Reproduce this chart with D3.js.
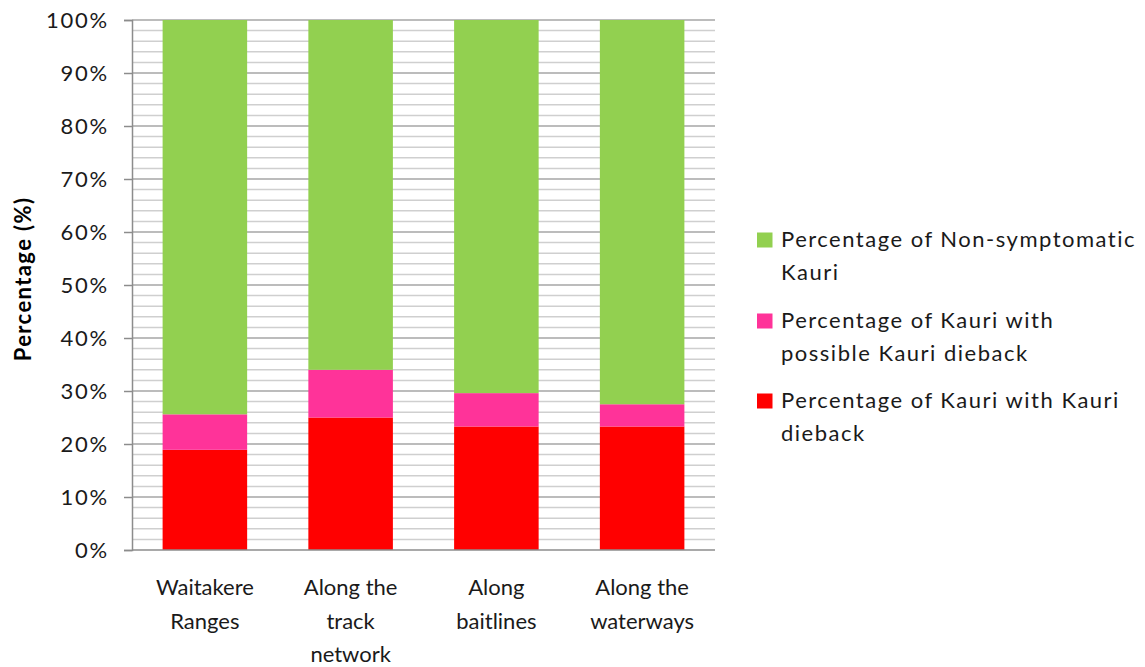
<!DOCTYPE html>
<html><head><meta charset="utf-8">
<script src="https://cdn.jsdelivr.net/npm/d3@7"></script>
<style>body{margin:0;background:#fff;}svg{display:block;font-family:Lato,"Open Sans",sans-serif;}</style>
</head><body><svg id="c" width="1145" height="667"></svg>
<script>
const categories = [["Waitakere","Ranges"],["Along the","track","network"],["Along","baitlines"],["Along the","waterways"]];
const dieback = [18.9, 25.0, 23.3, 23.3];
const possible = [6.7, 9.0, 6.3, 4.2];
const nonSymptomatic = [74.4, 66.0, 70.4, 72.5];
const seriesNames = [["Percentage of Non-symptomatic","Kauri"],["Percentage of Kauri with","possible Kauri dieback"],["Percentage of Kauri with Kauri","dieback"]];
const colors = ["#92D050","#FF3399","#FF0000"];
const yTicks = [0,10,20,30,40,50,60,70,80,90,100];

const svg = d3.select("#c");
const x0 = 132, x1 = 715, yTop = 20, yBot = 550;
const x = d3.scaleBand().domain(d3.range(categories.length)).range([x0,x1]).paddingInner(0.42).paddingOuter(0.21);
const y = d3.scaleLinear().domain([0,100]).range([yBot,yTop]);

// gridlines
const minor = d3.range(0,101,2).filter(v=>v%10!==0);
svg.append("g").selectAll("line").data(minor).join("line")
  .attr("x1",x0).attr("x2",x1).attr("y1",d=>y(d)).attr("y2",d=>y(d))
  .attr("stroke","#cfcfcf").attr("stroke-width",1.5);
svg.append("g").selectAll("line").data(yTicks.slice(1)).join("line")
  .attr("x1",x0).attr("x2",x1).attr("y1",d=>y(d)).attr("y2",d=>y(d))
  .attr("stroke","#a6a6a6").attr("stroke-width",1.5);

// stacked bars
const rows = categories.map((c,i)=>({i, dieback:dieback[i], possible:possible[i], non:nonSymptomatic[i]}));
const stack = d3.stack().keys(["dieback","possible","non"])(rows);
const colByKey = {dieback:colors[2], possible:colors[1], non:colors[0]};
stack.forEach(s=>{
  svg.append("g").selectAll("rect").data(s).join("rect")
    .attr("x",d=>x(d.data.i)).attr("width",x.bandwidth())
    .attr("y",d=>y(d[1])).attr("height",d=>y(d[0])-y(d[1]))
    .attr("fill",colByKey[s.key]);
});

// y axis
const yAxis = svg.append("g").attr("transform",`translate(${x0},0)`)
  .call(d3.axisLeft(y).tickValues(yTicks).tickFormat(d=>d+"%").tickSize(8).tickPadding(15));
yAxis.select(".domain").attr("stroke","#8c8c8c").attr("stroke-width",1.5);
yAxis.selectAll(".tick line").attr("stroke","#8c8c8c").attr("stroke-width",1.5);
yAxis.selectAll(".tick text").attr("font-size",22).attr("letter-spacing","1.8px").attr("dy","0.36em")
  .attr("fill","#1a1a1a").attr("font-family","Lato,sans-serif");

// x axis line
svg.append("line").attr("x1",x0).attr("x2",x1).attr("y1",yBot).attr("y2",yBot).attr("stroke","#8c8c8c").attr("stroke-width",1.5);

// x labels
categories.forEach((lines,i)=>{
  const t = svg.append("text").attr("text-anchor","middle").attr("font-size",22).attr("fill","#1a1a1a");
  lines.forEach((l,k)=>t.append("tspan").attr("x",x(i)+x.bandwidth()/2).attr("y",595+k*33.5).text(l));
});

// y title
svg.append("text").attr("transform","translate(31,279) rotate(-90)").attr("text-anchor","middle")
  .attr("font-size",22).attr("letter-spacing","1.4px").attr("font-weight","bold").attr("fill","#000").text("Percentage (%)");

// legend
const legY = [247,328,408];
seriesNames.forEach((lines,i)=>{
  svg.append("rect").attr("x",757).attr("y",legY[i]-14.5).attr("width",15.5).attr("height",15).attr("fill",colors[i]);
  const t = svg.append("text").attr("font-size",22).attr("letter-spacing","1.5px").attr("fill","#1a1a1a");
  lines.forEach((l,k)=>t.append("tspan").attr("x",781).attr("y",legY[i]+k*32.5).text(l));
});
</script></body></html>
